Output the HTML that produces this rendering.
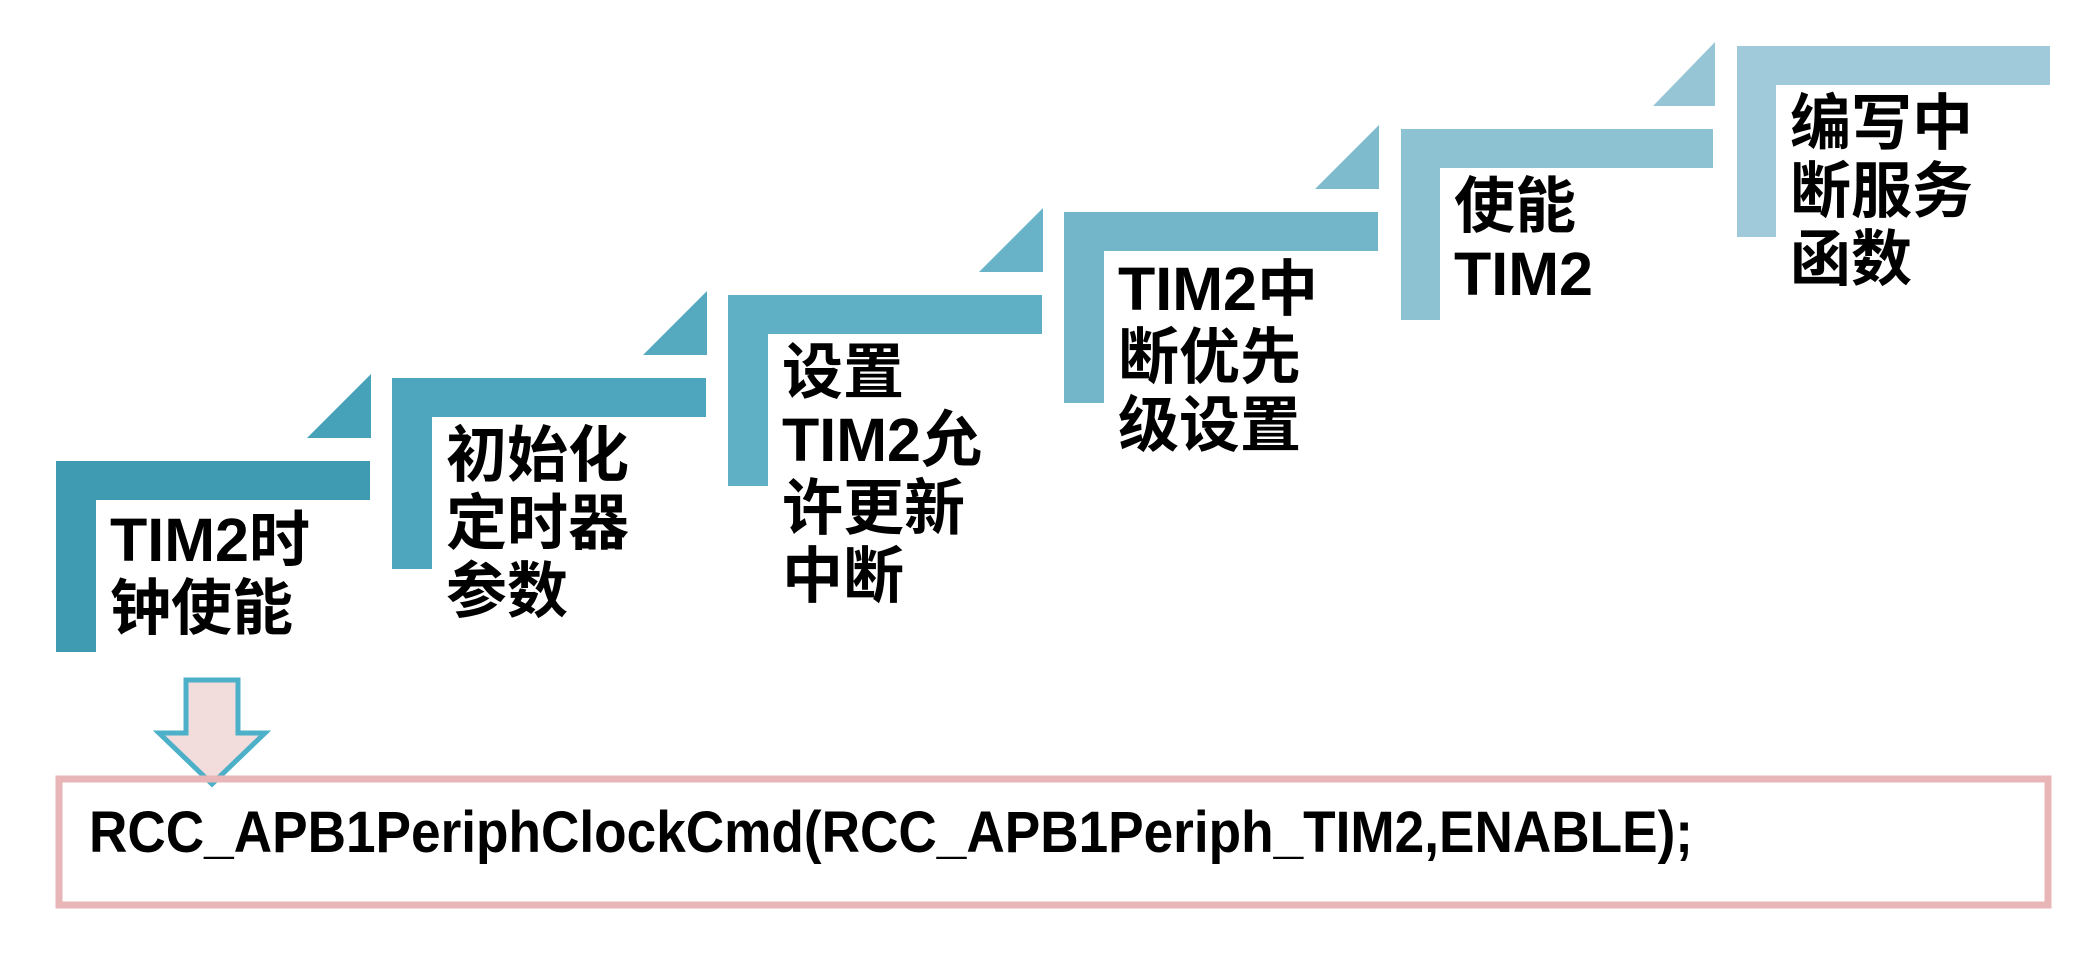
<!DOCTYPE html>
<html><head><meta charset="utf-8"><style>
html,body{margin:0;padding:0;background:#fff;}
svg{display:block}
text{font-family:"Liberation Sans","Noto Sans CJK SC",sans-serif;font-weight:bold;fill:#000}
</style></head><body>
<svg width="2097" height="964" viewBox="0 0 2097 964" xmlns="http://www.w3.org/2000/svg">
<g fill="#3e9bb2">
<rect x="56" y="461" width="314" height="39"/><rect x="56" y="461" width="40" height="191"/>
</g>
<polygon points="371,374 371,438 307,438" fill="#45a2b9"/>
<g fill="#4da6bd">
<rect x="392" y="378" width="314" height="39"/><rect x="392" y="378" width="40" height="191"/>
</g>
<polygon points="707,291 707,355 643,355" fill="#55aac0"/>
<g fill="#5fb0c5">
<rect x="728" y="295" width="314" height="39"/><rect x="728" y="295" width="40" height="191"/>
</g>
<polygon points="1043,208 1043,272 979,272" fill="#68b3c7"/>
<g fill="#74b6c9">
<rect x="1064" y="212" width="314" height="39"/><rect x="1064" y="212" width="40" height="191"/>
</g>
<polygon points="1379,125 1379,189 1315,189" fill="#7dbbcd"/>
<g fill="#8cc2d2">
<rect x="1401" y="129" width="312" height="39"/><rect x="1401" y="129" width="39" height="191"/>
</g>
<polygon points="1715,42 1715,106 1653,106" fill="#96c6d5"/>
<g fill="#a0cad9">
<rect x="1737" y="46" width="313" height="39"/><rect x="1737" y="46" width="39" height="191"/>
</g>
<g font-size="61">
<text x="110" y="561">TIM2时</text><text x="110" y="629">钟使能</text>
<text x="446" y="476">初始化</text><text x="446" y="544">定时器</text><text x="446" y="612">参数</text>
<text x="782" y="393">设置</text><text x="782" y="461">TIM2允</text><text x="782" y="529">许更新</text><text x="782" y="597">中断</text>
<text x="1118" y="310">TIM2中</text><text x="1118" y="378">断优先</text><text x="1118" y="446">级设置</text>
<text x="1454" y="227">使能</text><text x="1454" y="295">TIM2</text>
<text x="1790" y="144">编写中</text><text x="1790" y="212">断服务</text><text x="1790" y="280">函数</text>
</g>
<polygon points="186,680 238,680 238,733 265,733 212,784 159,733 186,733" fill="#f2dcdc" stroke="#4bb0c8" stroke-width="5"/>
<rect x="59" y="779" width="1989" height="126" fill="none" stroke="#e8b6b6" stroke-width="7"/>
<text x="89" y="852" font-size="58" textLength="1604" lengthAdjust="spacingAndGlyphs">RCC_APB1PeriphClockCmd(RCC_APB1Periph_TIM2,ENABLE);</text>
</svg>
</body></html>
